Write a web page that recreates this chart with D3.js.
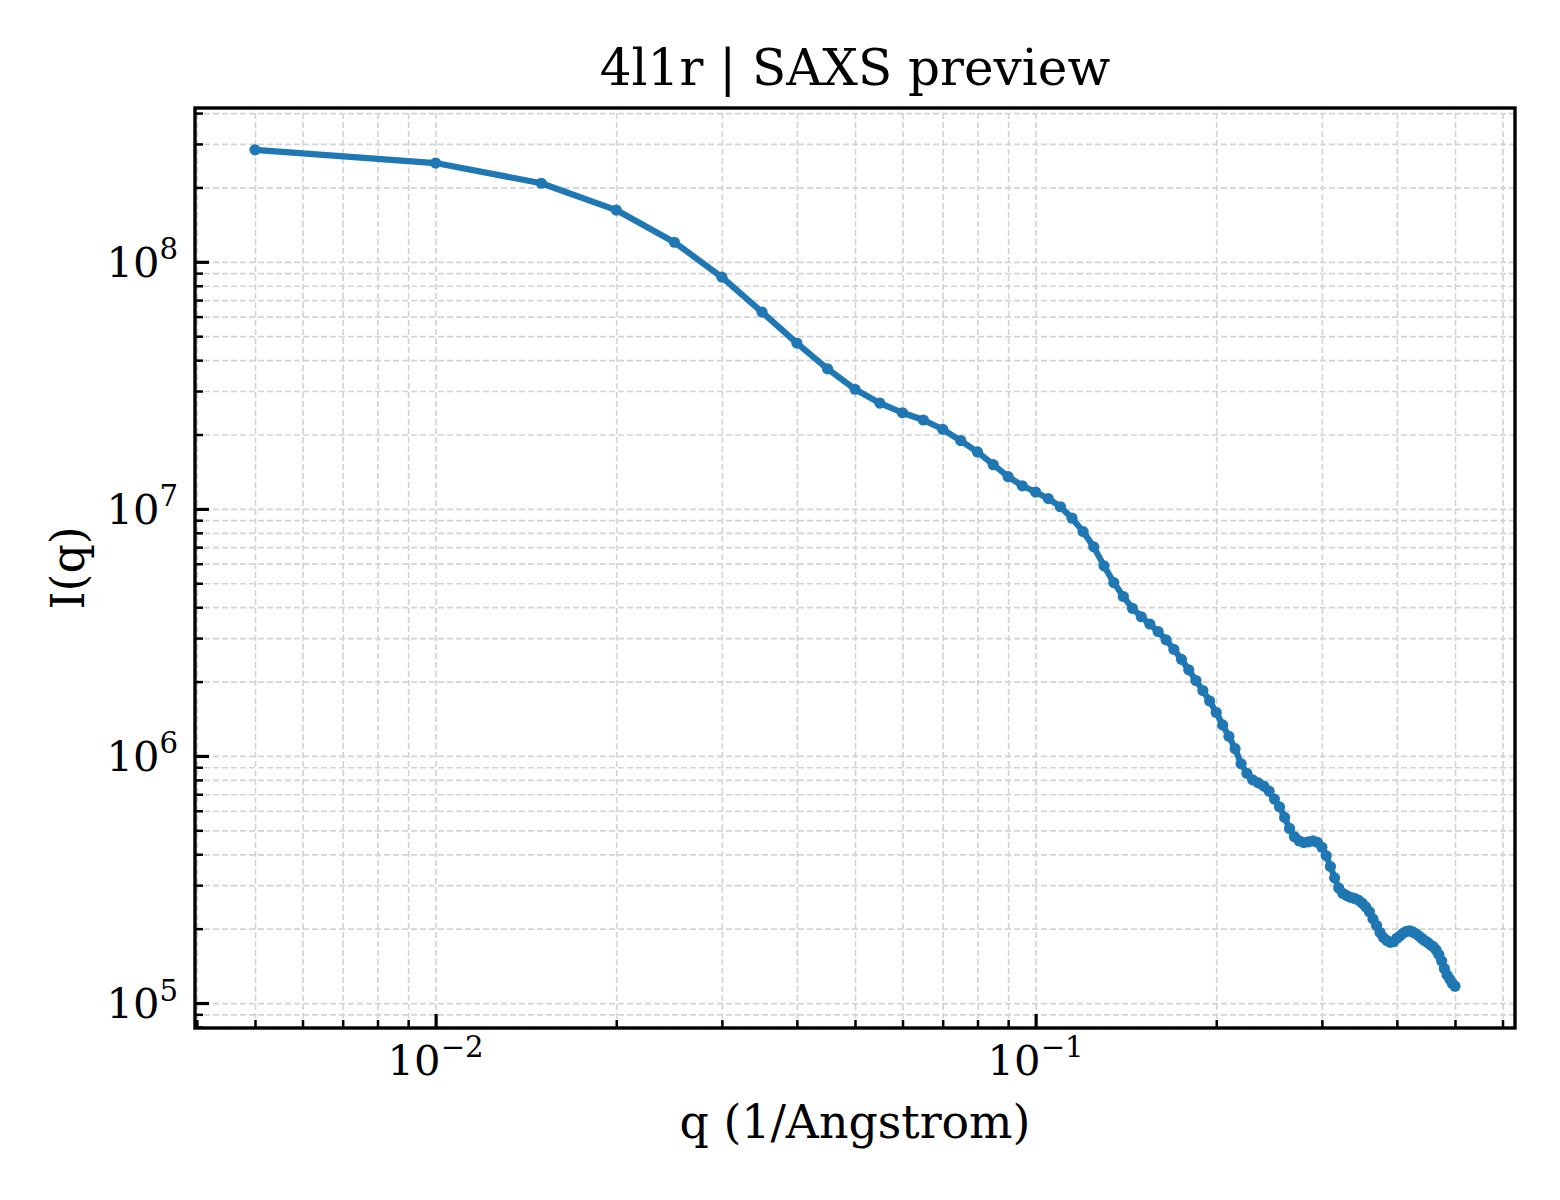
<!DOCTYPE html>
<html>
<head>
<meta charset="utf-8">
<script src="https://cdn.jsdelivr.net/npm/d3@7"></script>
<style>
  body { margin: 0; background: #fff; }
  text { font-family: "DejaVu Serif", serif; fill: #000; }
</style>
</head>
<body>
<svg id="chart" width="1560" height="1200"></svg>
<script>
// SAXS curve
const qValues = [
  0.005, 0.010, 0.015, 0.020, 0.025, 0.030, 0.035, 0.040, 0.045, 0.050,
  0.055, 0.060, 0.065, 0.070, 0.075, 0.080, 0.085, 0.090, 0.095, 0.100,
  0.105, 0.110, 0.115, 0.120, 0.125, 0.130, 0.135, 0.140, 0.145, 0.150,
  0.155, 0.160, 0.165, 0.170, 0.175, 0.180, 0.185, 0.190, 0.195, 0.200,
  0.205, 0.210, 0.215, 0.220, 0.225, 0.230, 0.235, 0.240, 0.245, 0.250,
  0.255, 0.260, 0.265, 0.270, 0.275, 0.280, 0.285, 0.290, 0.295, 0.300,
  0.305, 0.310, 0.315, 0.320, 0.325, 0.330, 0.335, 0.340, 0.345, 0.350,
  0.355, 0.360, 0.365, 0.370, 0.375, 0.380, 0.385, 0.390, 0.395, 0.400,
  0.405, 0.410, 0.415, 0.420, 0.425, 0.430, 0.435, 0.440, 0.445, 0.450,
  0.455, 0.460, 0.465, 0.470, 0.475, 0.480, 0.485, 0.490, 0.495, 0.500
];
const intensity = [
  2.84e8, 2.51e8, 2.08e8, 1.62e8, 1.20e8, 8.67e7, 6.26e7, 4.69e7, 3.69e7, 3.05e7,
  2.68e7, 2.45e7, 2.29e7, 2.10e7, 1.89e7, 1.70e7, 1.51e7, 1.35e7, 1.24e7, 1.17e7,
  1.10e7, 1.02e7, 9.17e6, 8.09e6, 7.02e6, 5.88e6, 5.03e6, 4.42e6, 3.96e6, 3.66e6,
  3.42e6, 3.19e6, 2.95e6, 2.70e6, 2.46e6, 2.23e6, 2.02e6, 1.84e6, 1.67e6, 1.50e6,
  1.335e6, 1.20e6, 1.07e6, 9.3e5, 8.5e5, 8.0e5, 7.78e5, 7.55e5, 7.20e5, 6.69e5,
  6.22e5, 5.64e5, 5.09e5, 4.71e5, 4.53e5, 4.46e5, 4.49e5, 4.53e5, 4.47e5, 4.27e5,
  3.95e5, 3.57e5, 3.21e5, 2.92e5, 2.78e5, 2.72e5, 2.68e5, 2.65e5, 2.61e5, 2.54e5,
  2.45e5, 2.34e5, 2.19e5, 2.06e5, 1.93e5, 1.84e5, 1.79e5, 1.76e5, 1.77e5, 1.83e5,
  1.87e5, 1.92e5, 1.95e5, 1.96e5, 1.94e5, 1.91e5, 1.87e5, 1.83e5, 1.79e5, 1.76e5,
  1.72e5, 1.69e5, 1.64e5, 1.57e5, 1.48e5, 1.38e5, 1.30e5, 1.25e5, 1.20e5, 1.17e5
];
const xMajorTicks = [0.01, 0.1];
const xMajorExps = ["\u22122", "\u22121"];
const yMajorTicks = [1e5, 1e6, 1e7, 1e8];
const yMajorExps = ["5", "6", "7", "8"];

const titleText = "4l1r | SAXS preview";
const xLabel = "q (1/Angstrom)";
const yLabel = "I(q)";

const data = qValues.map((q, i) => ({q: q, I: intensity[i]}));

const margin = {top: 108, right: 45, bottom: 172, left: 195};
const width = 1560, height = 1200;
const innerWidth = width - margin.left - margin.right;
const innerHeight = height - margin.top - margin.bottom;
const blue = "#1f77b4";
const tickFont = 41.7;

// 5% padding in log space, like matplotlib autoscale
function logPad(ext) {
  const a = Math.log10(ext[0]), b = Math.log10(ext[1]), p = (b - a) * 0.05;
  return [Math.pow(10, a - p), Math.pow(10, b + p)];
}

const xScale = d3.scaleLog()
  .domain(logPad(d3.extent(data, d => d.q)))
  .range([0, innerWidth]);
const yScale = d3.scaleLog()
  .domain(logPad(d3.extent(data, d => d.I)))
  .range([innerHeight, 0]);

const svg = d3.select("#chart");
svg.append("rect").attr("width", width).attr("height", height).attr("fill", "#fff");

const g = svg.append("g")
  .attr("transform", `translate(${margin.left},${margin.top})`);

const xAll = xScale.ticks();
const yAll = yScale.ticks();
const xMinor = xAll.filter(v => !xMajorTicks.some(m => Math.abs(m - v) / m < 1e-9));
const yMinor = yAll.filter(v => !yMajorTicks.some(m => Math.abs(m - v) / m < 1e-9));

// grid (major + minor), dashed
const xGrid = g.append("g").attr("transform", `translate(0,${innerHeight})`)
  .call(d3.axisBottom(xScale).tickValues(xAll).tickSizeInner(-innerHeight).tickSizeOuter(0).tickFormat(""));
const yGrid = g.append("g")
  .call(d3.axisLeft(yScale).tickValues(yAll).tickSizeInner(-innerWidth).tickSizeOuter(0).tickFormat(""));
[xGrid, yGrid].forEach(s => {
  s.select(".domain").remove();
  s.selectAll("text").remove();
  s.selectAll("line")
    .attr("stroke", "#d4d4d4")
    .attr("stroke-width", 1.7)
    .attr("stroke-dasharray", "6,3");
});

// curve
const line = d3.line()
  .x(d => xScale(d.q))
  .y(d => yScale(d.I));

g.append("path")
  .datum(data)
  .attr("fill", "none")
  .attr("stroke", blue)
  .attr("stroke-width", 6.2)
  .attr("stroke-linejoin", "round")
  .attr("d", line);

g.selectAll("circle.pt").data(data)
  .enter().append("circle")
    .attr("class", "pt")
    .attr("cx", d => xScale(d.q))
    .attr("cy", d => yScale(d.I))
    .attr("r", 5.6)
    .attr("fill", blue);

// ticks pointing inward, only lines from d3 axis; labels drawn below
function tickLines(sel, w) {
  sel.select(".domain").remove();
  sel.selectAll("text").remove();
  sel.selectAll("line").attr("stroke", "#000").attr("stroke-width", w);
}

tickLines(g.append("g").attr("transform", `translate(0,${innerHeight})`)
  .call(d3.axisBottom(xScale).tickValues(xMinor).tickSizeInner(-8).tickSizeOuter(0)), 2.5);
tickLines(g.append("g")
  .call(d3.axisLeft(yScale).tickValues(yMinor).tickSizeInner(-8).tickSizeOuter(0)), 2.5);
tickLines(g.append("g").attr("transform", `translate(0,${innerHeight})`)
  .call(d3.axisBottom(xScale).tickValues(xMajorTicks).tickSizeInner(-14).tickSizeOuter(0)), 3.2);
tickLines(g.append("g")
  .call(d3.axisLeft(yScale).tickValues(yMajorTicks).tickSizeInner(-14).tickSizeOuter(0)), 3.2);

// power-of-ten labels: base and exponent as separate texts
function powerLabel(parent, x, y, exp, anchor) {
  const grp = parent.append("g");
  const base = grp.append("text").attr("font-size", tickFont).attr("y", y).text("10");
  const sup = grp.append("text").attr("font-size", tickFont * 0.7)
    .attr("y", y - tickFont * 0.42).text(exp);
  const wb = base.node().getComputedTextLength();
  const ws = sup.node().getComputedTextLength();
  const total = wb + ws;
  const x0 = anchor === "middle" ? x - total / 2 : x - total;
  base.attr("x", x0);
  sup.attr("x", x0 + wb);
}

xMajorTicks.forEach((v, i) => powerLabel(g, xScale(v), innerHeight + 47, xMajorExps[i], "middle"));
yMajorTicks.forEach((v, i) => powerLabel(g, -17, yScale(v) + tickFont * 0.36, yMajorExps[i], "end"));

// frame
g.append("rect")
  .attr("width", innerWidth).attr("height", innerHeight)
  .attr("fill", "none").attr("stroke", "#000").attr("stroke-width", 3.4);

// labels
svg.append("text")
  .attr("x", margin.left + innerWidth / 2).attr("y", 85)
  .attr("text-anchor", "middle").attr("font-size", 50)
  .text(titleText);

svg.append("text")
  .attr("x", margin.left + innerWidth / 2).attr("y", 1138)
  .attr("text-anchor", "middle").attr("font-size", 45.8)
  .text(xLabel);

svg.append("text")
  .attr("transform", `translate(84,${margin.top + innerHeight / 2}) rotate(-90)`)
  .attr("text-anchor", "middle").attr("font-size", 45.8)
  .text(yLabel);
</script>
</body>
</html>
